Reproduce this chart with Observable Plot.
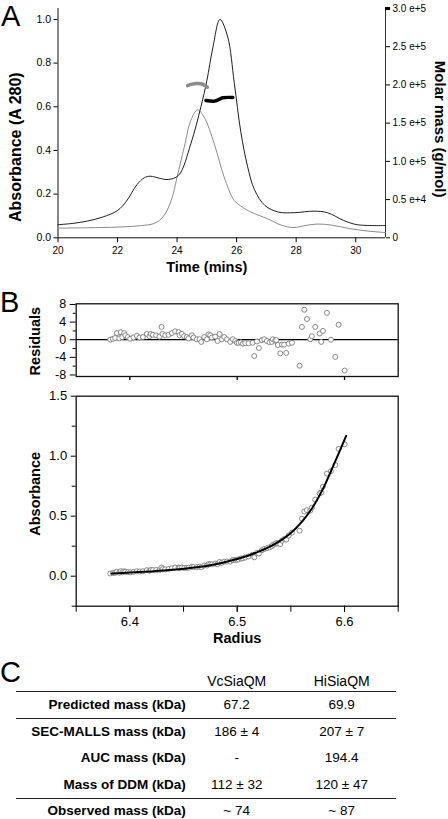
<!DOCTYPE html>
<html>
<head>
<meta charset="utf-8">
<script src="https://cdn.jsdelivr.net/npm/d3@7"></script>
<script src="https://cdn.jsdelivr.net/npm/@observablehq/plot@0.6"></script>
<style>
  html, body { margin: 0; padding: 0; background: #fff; }
  body { font-family: "Liberation Sans", Arial, sans-serif; color: #000; }
  #fig { position: relative; width: 448px; height: 819px; overflow: hidden; background: #fff; }
  .panel { position: absolute; left: 0; }
  .letter { position: absolute; font-size: 29px; line-height: 1; font-weight: normal; }
  .cell { position: absolute; line-height: 1; white-space: nowrap; transform: translate(-50%, -50%); font-size: 13.5px; }
  .rlabel { position: absolute; line-height: 1; white-space: nowrap; transform: translate(-100%, -50%); font-size: 13.5px; font-weight: bold; }
  .hline { position: absolute; left: 16px; width: 380px; height: 1.5px; background: #222; }
</style>
</head>
<body>
<div id="fig"></div>
<script>
// ---------------- Panel A data (SEC-MALLS) ----------------
const timeTicks = [20, 22, 24, 26, 28, 30];
const absTicks = [0, 0.2, 0.4, 0.6, 0.8, 1.0];
const massTicks = [0, 50000, 100000, 150000, 200000, 250000, 300000];
const massTickLabels = ["0", "0.5 e+4", "1.0 e+5", "1.5 e+5", "2.0 e+5", "2.5 e+5", "3.0 e+5"];

const blackTime = [20, 20.5, 21, 21.5, 22, 22.3, 22.65, 22.9, 23.1, 23.4, 23.7, 24.05, 24.46, 24.8, 25.0, 25.2, 25.44, 25.7, 25.92, 26.14, 26.37, 26.6, 26.95, 27.4, 27.95, 28.6, 29.05, 29.6, 30.05, 31];
const blackAbs  = [0.060, 0.066, 0.077, 0.095, 0.125, 0.168, 0.243, 0.275, 0.282, 0.273, 0.267, 0.286, 0.43, 0.60, 0.72, 0.87, 1.0, 0.92, 0.71, 0.485, 0.325, 0.22, 0.148, 0.118, 0.115, 0.122, 0.115, 0.079, 0.060, 0.056];

const grayTime = [20, 21, 22, 22.8, 23.25, 23.55, 23.8, 24.0, 24.24, 24.46, 24.69, 24.91, 25.25, 25.58, 25.92, 26.2, 26.48, 27.04, 27.5, 27.9, 28.3, 28.7, 29.2, 29.8, 30.4, 31];
const grayAbs  = [0.044, 0.046, 0.049, 0.056, 0.067, 0.10, 0.17, 0.278, 0.415, 0.537, 0.586, 0.552, 0.43, 0.278, 0.171, 0.14, 0.118, 0.087, 0.058, 0.047, 0.056, 0.063, 0.058, 0.042, 0.031, 0.024];

const grayMassTime = [24.35, 24.5, 24.65, 24.8, 24.95, 25.02];
const grayMass     = [199000, 201000, 202000, 201500, 199000, 197000];
const blackMassTime = [24.97, 25.25, 25.41, 25.53, 25.87];
const blackMass     = [179700, 178800, 181000, 183200, 183600];

// ---------------- Panel B data (AUC) ----------------
const radiusTicksMajor = [6.4, 6.5, 6.6];
const radiusTicksAll = [6.35, 6.4, 6.45, 6.5, 6.55, 6.6, 6.65];
const residTicksMajor = [-8, -4, 0, 4, 8];
const residTicksMinor = [-6, -2, 2, 6];
const aucAbsTicksMajor = [0, 0.5, 1.0, 1.5];
const aucAbsTicksMinor = [-0.25, 0.25, 0.75, 1.25];

const radius = [
  6.3817,6.3842,6.3863,6.3879,6.3901,6.3916,6.3929,6.3947,6.3957,6.3981,
  6.4003,6.4034,6.4065,6.4090,6.4121,6.4158,6.4183,6.4196,6.4214,6.4245,
  6.4276,6.4295,6.4304,6.4329,6.4360,6.4391,6.4422,6.4454,6.4463,6.4485,
  6.4506,6.4531,6.4547,6.4578,6.4593,6.4624,6.4649,6.4665,6.4693,6.4718,
  6.4733,6.4749,6.4764,6.4795,6.4817,6.4836,6.4857,6.4879,6.4904,6.4935,
  6.4960,6.4982,6.4997,6.5013,6.5034,6.5053,6.5075,6.5106,6.5143,6.5159,
  6.5184,6.5202,6.5230,6.5252,6.5277,6.5302,6.5323,6.5333,6.5354,6.5364,
  6.5379,6.5401,6.5417,6.5438,6.5457,6.5479,6.5510,6.5581,6.5603,6.5625,
  6.5650,6.5681,6.5696,6.5727,6.5768,6.5783,6.5799,6.5836,6.5873,6.5914,
  6.5945,6.6001];
const residual = [
  0,0.2,0.4,1.5,0.3,1.7,0.6,1.5,1.0,0.6,
  0.2,0.5,0.9,0.5,0.6,1.3,0.8,1.3,1.1,1.0,
  0.7,2.9,1.3,1.0,1.1,1.5,1.9,1.7,1.0,1.3,
  0.8,0.6,0.3,1.0,0.5,0.1,0.1,-0.5,0.6,0.1,
  1.2,1.0,0.5,0.7,-0.3,1.3,0.1,0.6,0.1,-0.5,
  0.1,-0.3,-0.7,-0.7,-0.6,-0.9,-0.8,-0.8,-0.7,-3.7,
  -0.4,-1.9,-0.1,0.1,-0.3,-0.6,-0.5,0.1,-0.2,-0.1,
  -1.2,-3.1,-1.1,-1.1,-3.0,-0.9,-0.7,-5.9,2.9,6.8,
  4.7,0.1,0.8,2.9,1.4,-0.5,2.0,6.1,0,-3.9,
  3.4,-7.0];
const absorbance = [
  .023,.026,.029,.038,.029,.042,.032,.041,.037,.034,
  .032,.036,.041,.039,.041,.050,.046,.052,.051,.052,
  .051,.072,.058,.057,.060,.066,.072,.073,.068,.073,
  .069,.070,.070,.079,.076,.076,.079,.076,.089,.089,
  .101,.101,.099,.105,.100,.119,.112,.121,.122,.123,
  .135,.136,.137,.140,.147,.149,.156,.165,.179,.157,
  .195,.189,.216,.227,.233,.241,.251,.262,.270,.276,
  .274,.268,.296,.310,.305,.338,.363,.379,.479,.539,
  .550,.547,.572,.638,.690,.696,.746,.855,.875,.927,
  1.061,1.099];
const fitRadius = [6.383, 6.40, 6.42, 6.44, 6.46, 6.48, 6.50, 6.51, 6.52, 6.53, 6.54, 6.55, 6.56, 6.57, 6.58, 6.59, 6.6015];
const fitAbs    = [0.022, 0.030, 0.040, 0.053, 0.072, 0.100, 0.143, 0.170, 0.205, 0.245, 0.295, 0.36, 0.45, 0.57, 0.73, 0.93, 1.17];

// ---------------- Panel C data (table) ----------------
const tableColumns = ["VcSiaQM", "HiSiaQM"];
const tableRows = ["Predicted mass (kDa)", "SEC-MALLS mass (kDa)", "AUC mass (kDa)", "Mass of DDM (kDa)", "Observed mass (kDa)"];
const vcValues = ["67.2", "186 ± 4", "-", "112 ± 32", "~ 74"];
const hiValues = ["69.9", "207 ± 7", "194.4", "120 ± 47", "~ 87"];

// ---------------- Drawing ----------------
const FONT = "Liberation Sans, Arial, Helvetica, sans-serif";
const fig = document.getElementById("fig");
const massToAbs = 1.05 / 300000;
const massLabelByPos = new Map(massTicks.map((m, i) => [m * massToAbs, massTickLabels[i]]));
const centered = { textAnchor: "middle", lineAnchor: "middle", fontWeight: "bold" };

function place(el, top) {
  el.classList.add("panel");
  el.style.top = top + "px";
  fig.appendChild(el);
}

// Panel A
const plotA = Plot.plot({
  width: 448, height: 280,
  marginLeft: 57.5, marginRight: 63, marginTop: 8, marginBottom: 42.7,
  style: { fontFamily: FONT, fontSize: "10px", color: "#000", background: "none", overflow: "visible" },
  x: { domain: [20, 31], axis: null },
  y: { domain: [0, 1.05], axis: null },
  marks: [
    Plot.axisY(absTicks, { anchor: "left", tickSize: 4, tickPadding: 3, tickFormat: d3.format(".1f"), label: null, fontSize: 10.5 }),
    Plot.axisY(massTicks.map(m => m * massToAbs), { anchor: "right", tickSize: 4, tickPadding: 3, tickFormat: d => massLabelByPos.get(d), label: null, fontSize: 10 }),
    Plot.axisX(timeTicks, { anchor: "bottom", tickSize: 5, tickPadding: 4, label: null, fontSize: 10 }),
    Plot.ruleX([20], { stroke: "#111" }),
    Plot.ruleX([31], { stroke: "#333" }),
    Plot.ruleY([0], { stroke: "#111" }),
    Plot.ruleY([300000 * massToAbs], { x1: 31, x2: 31.17, stroke: "#000", strokeWidth: 3 }),
    Plot.line(grayTime.map((t, i) => ({ t, v: grayAbs[i] })), { x: "t", y: "v", curve: "catmull-rom", stroke: "#8a8a8a", strokeWidth: 1 }),
    Plot.line(blackTime.map((t, i) => ({ t, v: blackAbs[i] })), { x: "t", y: "v", curve: "catmull-rom", stroke: "#1e1e1e", strokeWidth: 1 }),
    Plot.line(grayMassTime.map((t, i) => ({ t, m: grayMass[i] * massToAbs })), { x: "t", y: "m", curve: "catmull-rom", stroke: "#8c8c8c", strokeWidth: 3.5, strokeLinecap: "round" }),
    Plot.line(blackMassTime.map((t, i) => ({ t, m: blackMass[i] * massToAbs })), { x: "t", y: "m", curve: "catmull-rom", stroke: "#000", strokeWidth: 3.5, strokeLinecap: "round" }),
    Plot.text(["Absorbance (A 280)"], { ...centered, frameAnchor: "left", rotate: -90, dx: -42, dy: 24, fontSize: 16 }),
    Plot.text(["Molar mass (g/mol)"], { ...centered, frameAnchor: "right", rotate: 90, dx: 54, dy: 6, fontSize: 15 }),
    Plot.text(["Time (mins)"], { ...centered, frameAnchor: "bottom", dx: -15, dy: 30, fontSize: 14.5 })
  ]
});
place(plotA, 0);

// Panel B residuals
const plotR = Plot.plot({
  width: 448, height: 105,
  marginLeft: 75.7, marginRight: 50.3, marginTop: 13.3, marginBottom: 19,
  style: { fontFamily: FONT, fontSize: "12px", color: "#000", background: "none", overflow: "visible" },
  x: { domain: [6.35, 6.65], axis: null },
  y: { domain: [-8.35, 8.15], axis: null },
  marks: [
    Plot.ruleY([0], { stroke: "#000", strokeWidth: 1.3 }),
    Plot.axisY(residTicksMajor, { anchor: "left", tickSize: 6, tickPadding: 4, tickFormat: d => String(d), label: null, fontSize: 12.5 }),
    Plot.axisY(residTicksMinor, { anchor: "left", tickSize: 3, text: null, label: null }),
    Plot.axisX(radiusTicksMajor, { anchor: "bottom", tickSize: 4, text: null, label: null, strokeWidth: 1.3 }),
    Plot.dot(radius.map((r, i) => ({ r, v: residual[i] })), { x: "r", y: "v", r: 2.5, stroke: "#7a7a7a", fill: "white", strokeWidth: 0.9 }),
    Plot.frame({ stroke: "#111", strokeWidth: 1.3 }),
    Plot.text(["Residuals"], { ...centered, frameAnchor: "left", rotate: -90, dx: -40.7, dy: 1, fontSize: 14.5 })
  ]
});
place(plotR, 290);

// Panel B main
const plotB = Plot.plot({
  width: 448, height: 260,
  marginLeft: 75.7, marginRight: 50.3, marginTop: 5.7, marginBottom: 44.3,
  style: { fontFamily: FONT, fontSize: "13px", color: "#000", background: "none", overflow: "visible" },
  x: { domain: [6.35, 6.65], axis: null },
  y: { domain: [-0.25, 1.5], axis: null },
  marks: [
    Plot.axisY(aucAbsTicksMajor, { anchor: "left", tickSize: 5, tickPadding: 4, tickFormat: d3.format(".1f"), label: null, fontSize: 13 }),
    Plot.axisY(aucAbsTicksMinor, { anchor: "left", tickSize: 4, text: null, label: null }),
    Plot.axisX(radiusTicksAll, { anchor: "bottom", tickSize: 6, text: null, label: null }),
    Plot.axisX(radiusTicksMajor, { anchor: "bottom", tickSize: 6, tickPadding: 4.5, tickFormat: d3.format(".1f"), label: null, fontSize: 13 }),
    Plot.dot(radius.map((r, i) => ({ r, a: absorbance[i] })), { x: "r", y: "a", r: 2.5, stroke: "#7a7a7a", fill: "white", strokeWidth: 0.9 }),
    Plot.line(fitRadius.map((r, i) => ({ r, a: fitAbs[i] })), { x: "r", y: "a", curve: "catmull-rom", stroke: "#000", strokeWidth: 2 }),
    Plot.frame({ stroke: "#111", strokeWidth: 1.3 }),
    Plot.text(["Absorbance"], { ...centered, frameAnchor: "left", rotate: -90, dx: -40.7, dy: -7.4, fontSize: 14.5 }),
    Plot.text(["Radius"], { ...centered, frameAnchor: "bottom", dx: 0, dy: 32.6, fontSize: 14.5 })
  ]
});
place(plotB, 390);

// Panel letters
[["A", 1, 2], ["B", 0, 288], ["C", 0, 658]].forEach(([t, x, y]) => {
  const d = document.createElement("div");
  d.className = "letter";
  d.textContent = t;
  d.style.left = x + "px";
  d.style.top = y + "px";
  fig.appendChild(d);
});

// Panel C table
const colX = [236.7, 341.7];
const labelRight = 185.7;
const headerY = 681;
const rowY0 = 705, rowStep = 26.6;
tableColumns.forEach((c, j) => {
  const d = document.createElement("div");
  d.className = "cell";
  d.style.fontSize = "14px";
  d.textContent = c;
  d.style.left = colX[j] + "px";
  d.style.top = headerY + "px";
  fig.appendChild(d);
});
tableRows.forEach((row, i) => {
  const y = rowY0 + i * rowStep;
  const l = document.createElement("div");
  l.className = "rlabel";
  l.textContent = row;
  l.style.left = labelRight + "px";
  l.style.top = y + "px";
  fig.appendChild(l);
  [vcValues[i], hiValues[i]].forEach((v, j) => {
    const d = document.createElement("div");
    d.className = "cell";
    d.textContent = v;
    d.style.left = colX[j] + "px";
    d.style.top = y + "px";
    fig.appendChild(d);
  });
});
[691.7, 718.7, 798.3].forEach(y => {
  const h = document.createElement("div");
  h.className = "hline";
  h.style.top = (y - 0.75) + "px";
  fig.appendChild(h);
});
</script>
</body>
</html>
